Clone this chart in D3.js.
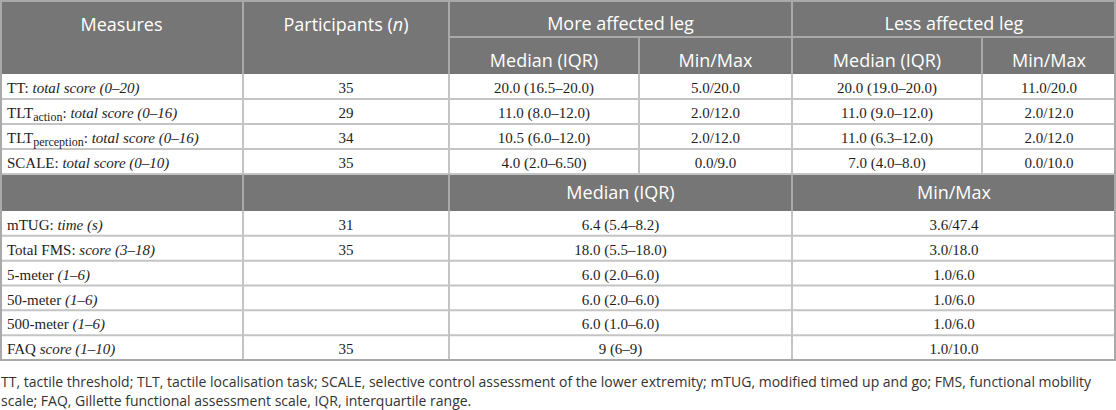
<!DOCTYPE html>
<html>
<head>
<meta charset="utf-8">
<script src="https://cdn.jsdelivr.net/npm/d3@7"></script>
<style>
    body { margin: 0; background: #fff; }
    svg { display: block; }
    .hd { font-family: "Open Sans", sans-serif; font-size: 18px; fill: #fff; }
    .cell { font-family: "Liberation Serif", "DejaVu Serif", serif; font-size: 15px; fill: #1e1e1e; }
    .note { font-family: "Open Sans", sans-serif; font-size: 14px; fill: #333; }
</style>
</head>
<body>
<svg width="1116" height="410"></svg>
<script>
/* ==================== DATA ==================== */

// header texts
var headTop = ["Measures", "Participants", "More affected leg", "Less affected leg"];
var headSub = ["Median (IQR)", "Min/Max", "Median (IQR)", "Min/Max"];
var headMid = ["Median (IQR)", "Min/Max"];

// upper block: sensory measures, per leg
var topNames = ["TT", "TLT", "TLT", "SCALE"];
var topSubs = ["", "action", "perception", ""];
var topScales = ["total score (0–20)", "total score (0–16)", "total score (0–16)", "total score (0–10)"];
var topN = ["35", "29", "34", "35"];
var moreMedian = ["20.0 (16.5–20.0)", "11.0 (8.0–12.0)", "10.5 (6.0–12.0)", "4.0 (2.0–6.50)"];
var moreMinMax = ["5.0/20.0", "2.0/12.0", "2.0/12.0", "0.0/9.0"];
var lessMedian = ["20.0 (19.0–20.0)", "11.0 (9.0–12.0)", "11.0 (6.3–12.0)", "7.0 (4.0–8.0)"];
var lessMinMax = ["11.0/20.0", "2.0/12.0", "2.0/12.0", "0.0/10.0"];

// lower block: mobility measures
var botNames = ["mTUG", "Total FMS", "5-meter", "50-meter", "500-meter", "FAQ"];
var botSeps = [": ", ": ", " ", " ", " ", " "];
var botScales = ["time (s)", "score (3–18)", "(1–6)", "(1–6)", "(1–6)", "score (1–10)"];
var botN = ["31", "35", "", "", "", "35"];
var botMedian = ["6.4 (5.4–8.2)", "18.0 (5.5–18.0)", "6.0 (2.0–6.0)", "6.0 (2.0–6.0)", "6.0 (1.0–6.0)", "9 (6–9)"];
var botMinMax = ["3.6/47.4", "3.0/18.0", "1.0/6.0", "1.0/6.0", "1.0/6.0", "1.0/10.0"];

var notes = [
    "TT, tactile threshold; TLT, tactile localisation task; SCALE, selective control assessment of the lower extremity; mTUG, modified timed up and go; FMS, functional mobility",
    "scale; FAQ, Gillette functional assessment scale, IQR, interquartile range."
];

/* ==================== LAYOUT ==================== */

var svg = d3.select("svg"),
    width = +svg.attr("width");

var col = [0, 243, 449, 639, 792, 982, width]; // column edges
var headH = 37, midTop = 174, midH = 37, tableBottom = 360;

var headFill = "#767676",
    headLine = "#a9a9a9",
    bodyLine = "#c4c4c4";

var yTop = d3.scaleBand()
    .domain(d3.range(topN.length))
    .range([headH * 2, midTop]);

var yBot = d3.scaleBand()
    .domain(d3.range(botN.length))
    .range([midTop + midH, tableBottom]);

function mid(a, b) { return (col[a] + col[b]) / 2; }

/* ==================== BACKGROUNDS ==================== */

svg.append("rect").attr("x", 0).attr("y", 0).attr("width", width).attr("height", headH * 2).attr("fill", headFill);
svg.append("rect").attr("x", 0).attr("y", midTop).attr("width", width).attr("height", midH).attr("fill", headFill);

/* ==================== GRID LINES ==================== */

var lines = svg.append("g").attr("stroke-width", 2);

function line(x1, y1, x2, y2, c) {
    lines.append("line").attr("x1", x1).attr("y1", y1).attr("x2", x2).attr("y2", y2).attr("stroke", c);
}

// upper body
yTop.domain().forEach(function(i) {
    line(0, yTop(i) + yTop.bandwidth(), width, yTop(i) + yTop.bandwidth(), bodyLine);
});
col.slice(1, -1).forEach(function(x) { line(x, headH * 2, x, midTop, bodyLine); });

// lower body
yBot.domain().forEach(function(i) {
    line(0, yBot(i) + yBot.bandwidth(), width, yBot(i) + yBot.bandwidth(), bodyLine);
});
[col[1], col[2], col[4]].forEach(function(x) { line(x, midTop + midH, x, tableBottom, bodyLine); });

// header dividers
line(col[2], headH, width, headH, headLine);
[col[1], col[2], col[4]].forEach(function(x) { line(x, 0, x, headH * 2, headLine); });
[col[3], col[5]].forEach(function(x) { line(x, headH, x, headH * 2, headLine); });
[col[1], col[2], col[4]].forEach(function(x) { line(x, midTop, x, midTop + midH, headLine); });

// outer frame
svg.append("rect")
    .attr("x", 1).attr("y", 1)
    .attr("width", width - 2).attr("height", tableBottom - 1)
    .attr("fill", "none")
    .attr("stroke", headLine)
    .attr("stroke-width", 2);

/* ==================== HEADER TEXT ==================== */

var hd = svg.append("g").attr("class", "hd").attr("text-anchor", "middle");

hd.append("text").attr("x", mid(0, 1)).attr("y", 31).text(headTop[0]);

var part = hd.append("text").attr("x", mid(1, 2)).attr("y", 31);
part.append("tspan").text(headTop[1] + " (");
part.append("tspan").attr("font-style", "italic").text("n");
part.append("tspan").text(")");

hd.append("text").attr("x", mid(2, 4)).attr("y", 30).text(headTop[2]);
hd.append("text").attr("x", mid(4, 6)).attr("y", 30).text(headTop[3]);

headSub.forEach(function(t, i) {
    hd.append("text").attr("x", mid(i + 2, i + 3)).attr("y", headH + 30).text(t);
});

hd.append("text").attr("x", mid(2, 4)).attr("y", midTop + 25).text(headMid[0]);
hd.append("text").attr("x", mid(4, 6)).attr("y", midTop + 25).text(headMid[1]);

/* ==================== BODY TEXT ==================== */

function measure(g, y, name, sub, sep, scale) {
    var t = g.append("text").attr("x", 7).attr("y", y);
    t.append("tspan").text(name);
    if (sub) {
        t.append("tspan").attr("font-size", "12px").attr("dy", 3).text(sub);
        t.append("tspan").attr("dy", -3).text(sep);
    } else {
        t.append("tspan").text(sep);
    }
    t.append("tspan").attr("font-style", "italic").text(scale);
}

function centred(g, x, y, s) {
    g.append("text").attr("x", x).attr("y", y).attr("text-anchor", "middle").text(s);
}

var body = svg.append("g").attr("class", "cell");

topN.forEach(function(n, i) {
    var y = yTop(i) + 19;
    measure(body, y, topNames[i], topSubs[i], ": ", topScales[i]);
    centred(body, mid(1, 2), y, n);
    centred(body, mid(2, 3), y, moreMedian[i]);
    centred(body, mid(3, 4), y, moreMinMax[i]);
    centred(body, mid(4, 5), y, lessMedian[i]);
    centred(body, mid(5, 6), y, lessMinMax[i]);
});

botN.forEach(function(n, i) {
    var y = yBot(i) + 19;
    measure(body, y, botNames[i], "", botSeps[i], botScales[i]);
    centred(body, mid(1, 2), y, n);
    centred(body, mid(2, 4), y, botMedian[i]);
    centred(body, mid(4, 6), y, botMinMax[i]);
});

/* ==================== FOOTNOTE ==================== */

svg.append("g").attr("class", "note")
    .selectAll("text")
    .data(notes)
    .enter().append("text")
    .attr("x", 1)
    .attr("y", function(d, i) { return 387 + i * 19; })
    .text(function(d) { return d; });
</script>
</body>
</html>
